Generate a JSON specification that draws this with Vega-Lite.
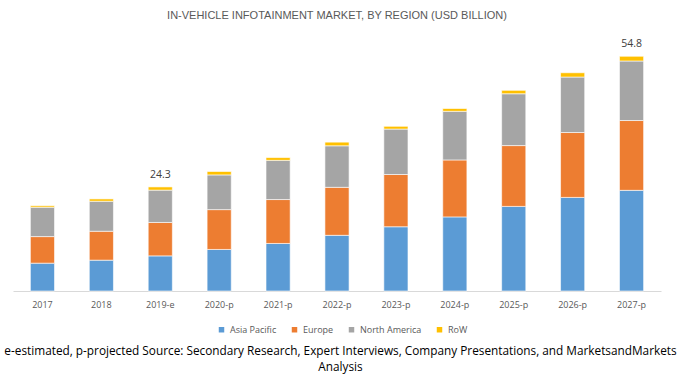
{
  "$schema": "https://vega.github.io/schema/vega-lite/v6.json",
  "width": 648,
  "height": 257,
  "autosize": {"type": "none"},
  "padding": {"left": 13, "top": 34, "right": 19, "bottom": 94},
  "background": "white",
  "title": {
    "text": "IN-VEHICLE INFOTAINMENT MARKET, BY REGION (USD BILLION)",
    "font": "Liberation Sans",
    "fontSize": 11,
    "fontWeight": "normal",
    "color": "#595959",
    "anchor": "middle",
    "baseline": "middle",
    "offset": 7
  },
  "config": {"view": {"stroke": null}},
  "layer": [
    {
      "data": {
        "values": [
          {"year": "2017", "region": "Asia Pacific", "value": 6.5},
          {"year": "2017", "region": "Europe", "value": 6.2},
          {"year": "2017", "region": "North America", "value": 6.85},
          {"year": "2017", "region": "RoW", "value": 0.35},
          {"year": "2018", "region": "Asia Pacific", "value": 7.2},
          {"year": "2018", "region": "Europe", "value": 6.75},
          {"year": "2018", "region": "North America", "value": 7.0},
          {"year": "2018", "region": "RoW", "value": 0.55},
          {"year": "2019-e", "region": "Asia Pacific", "value": 8.2},
          {"year": "2019-e", "region": "Europe", "value": 7.8},
          {"year": "2019-e", "region": "North America", "value": 7.55},
          {"year": "2019-e", "region": "RoW", "value": 0.75},
          {"year": "2020-p", "region": "Asia Pacific", "value": 9.7},
          {"year": "2020-p", "region": "Europe", "value": 9.3},
          {"year": "2020-p", "region": "North America", "value": 8.1},
          {"year": "2020-p", "region": "RoW", "value": 0.8},
          {"year": "2021-p", "region": "Asia Pacific", "value": 11.1},
          {"year": "2021-p", "region": "Europe", "value": 10.25},
          {"year": "2021-p", "region": "North America", "value": 9.15},
          {"year": "2021-p", "region": "RoW", "value": 0.65},
          {"year": "2022-p", "region": "Asia Pacific", "value": 13.0},
          {"year": "2022-p", "region": "Europe", "value": 11.2},
          {"year": "2022-p", "region": "North America", "value": 9.7},
          {"year": "2022-p", "region": "RoW", "value": 0.85},
          {"year": "2023-p", "region": "Asia Pacific", "value": 15.0},
          {"year": "2023-p", "region": "Europe", "value": 12.2},
          {"year": "2023-p", "region": "North America", "value": 10.6},
          {"year": "2023-p", "region": "RoW", "value": 0.65},
          {"year": "2024-p", "region": "Asia Pacific", "value": 17.3},
          {"year": "2024-p", "region": "Europe", "value": 13.3},
          {"year": "2024-p", "region": "North America", "value": 11.35},
          {"year": "2024-p", "region": "RoW", "value": 0.65},
          {"year": "2025-p", "region": "Asia Pacific", "value": 19.75},
          {"year": "2025-p", "region": "Europe", "value": 14.2},
          {"year": "2025-p", "region": "North America", "value": 12.1},
          {"year": "2025-p", "region": "RoW", "value": 0.8},
          {"year": "2026-p", "region": "Asia Pacific", "value": 21.85},
          {"year": "2026-p", "region": "Europe", "value": 15.15},
          {"year": "2026-p", "region": "North America", "value": 12.95},
          {"year": "2026-p", "region": "RoW", "value": 1.0},
          {"year": "2027-p", "region": "Asia Pacific", "value": 23.5},
          {"year": "2027-p", "region": "Europe", "value": 16.3},
          {"year": "2027-p", "region": "North America", "value": 13.9},
          {"year": "2027-p", "region": "RoW", "value": 1.1}
        ]
      },
      "mark": {"type": "bar", "stroke": "#ffffff", "strokeWidth": 0.6},
      "encoding": {
        "x": {
          "field": "year",
          "type": "nominal",
          "sort": null,
          "scale": {"paddingInner": 0.59, "paddingOuter": 0.295},
          "axis": {
            "labelAngle": 0,
            "labelFont": "Open Sans",
            "labelFontSize": 9,
            "labelColor": "#595959",
            "labelPadding": 9,
            "ticks": false,
            "grid": false,
            "domainColor": "#d9d9d9",
            "domainWidth": 1,
            "title": ["e-estimated, p-projected Source: Secondary Research, Expert Interviews, Company Presentations, and MarketsandMarkets", "Analysis"],
            "titleFont": "Open Sans",
            "titleFontSize": 11.8,
            "titleFontWeight": "normal",
            "titleColor": "#000000",
            "titleBaseline": "top",
            "titleY": 54,
            "titleX": 327,
            "titleLineHeight": 16
          }
        },
        "y": {
          "field": "value",
          "type": "quantitative",
          "stack": "zero",
          "scale": {"domain": [0, 60]},
          "axis": null
        },
        "order": {"field": "region", "type": "nominal", "sort": "ascending"},
        "color": {
          "field": "region",
          "type": "nominal",
          "scale": {
            "domain": ["Asia Pacific", "Europe", "North America", "RoW"],
            "range": ["#5B9BD5", "#ED7D31", "#A5A5A5", "#FFC000"]
          },
          "legend": {
            "orient": "none",
            "legendX": 204,
            "legendY": 291,
            "direction": "horizontal",
            "title": null,
            "symbolType": "square",
            "symbolSize": 30,
            "symbolStrokeWidth": 0,
            "labelFont": "Open Sans",
            "labelFontSize": 9,
            "labelColor": "#595959",
            "labelOffset": 4,
            "columnPadding": 13
          }
        }
      }
    },
    {
      "data": {
        "values": [
          {"year": "2019-e", "total": 24.3, "label": "24.3"},
          {"year": "2027-p", "total": 54.8, "label": "54.8"}
        ]
      },
      "mark": {
        "type": "text",
        "font": "Open Sans",
        "fontSize": 10.5,
        "color": "#404040",
        "baseline": "alphabetic",
        "dy": -9
      },
      "encoding": {
        "x": {"field": "year", "type": "nominal", "sort": null},
        "y": {"field": "total", "type": "quantitative"},
        "text": {"field": "label"}
      }
    }
  ]
}
